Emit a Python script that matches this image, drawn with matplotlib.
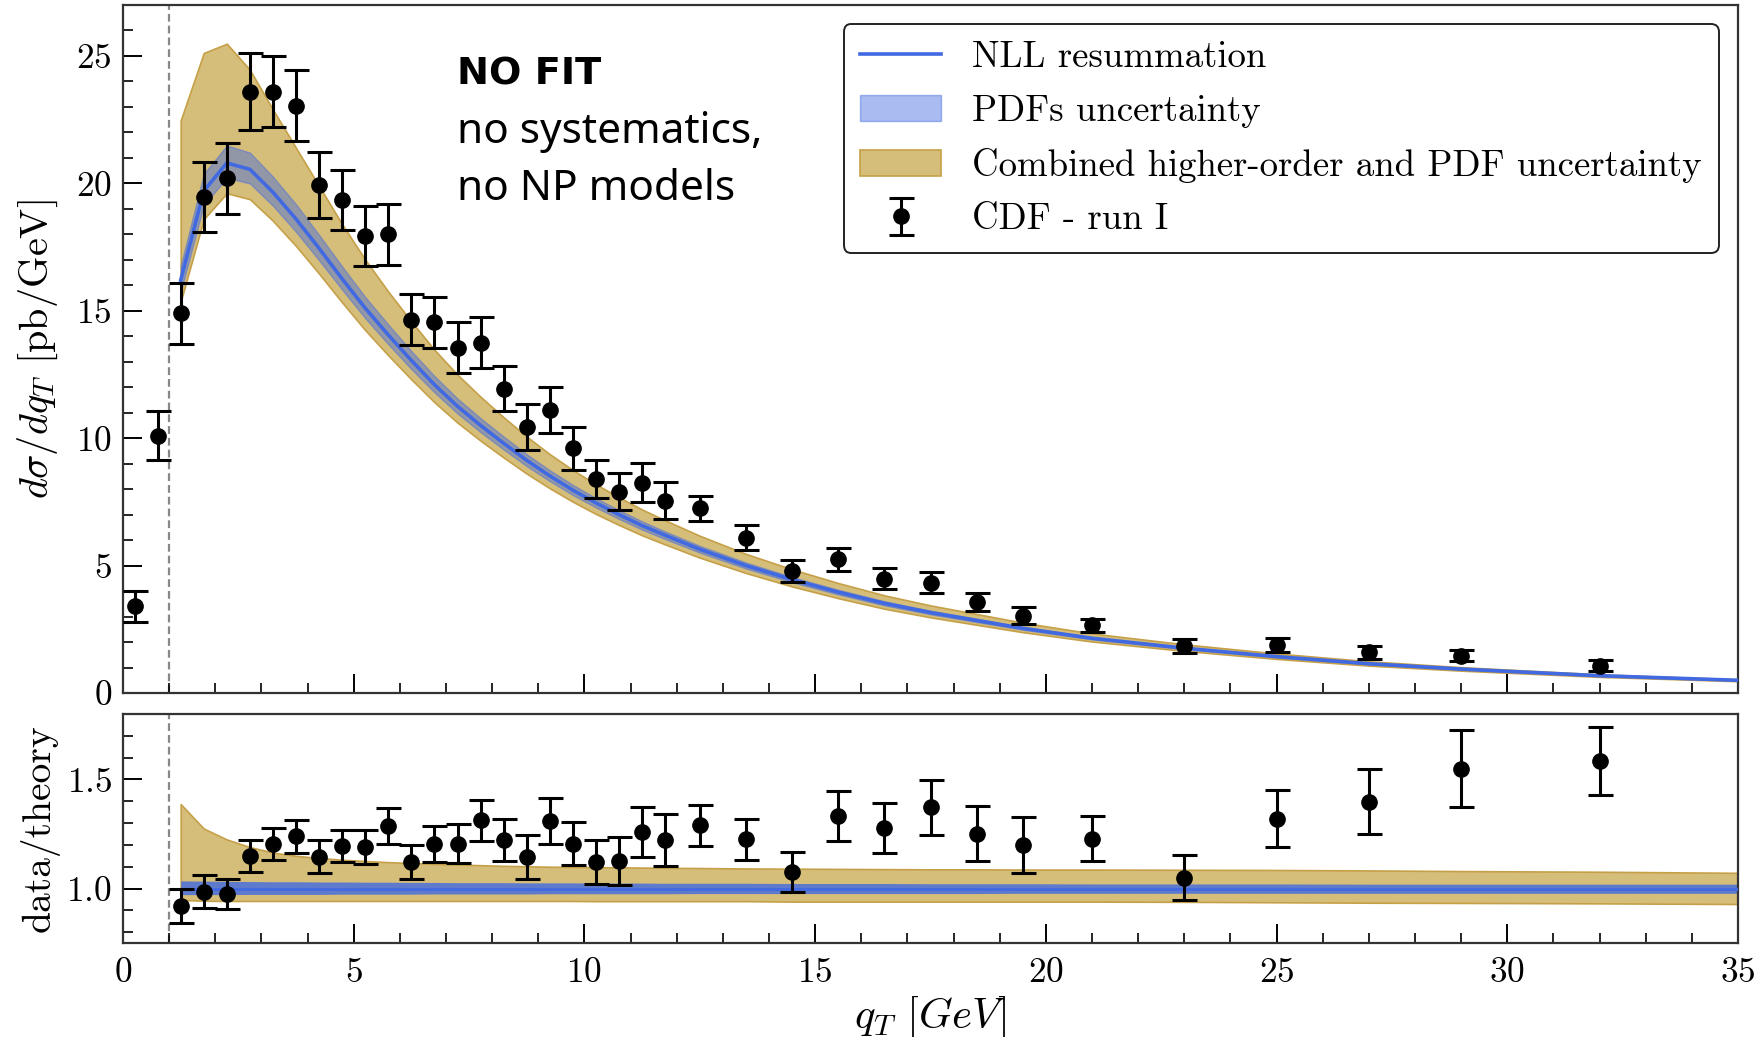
import numpy as np
import matplotlib
matplotlib.use('Agg')
import matplotlib.pyplot as plt
from matplotlib.ticker import MultipleLocator

# ── CDF run I measurement ─────────────────────────────────────────────────────
QT = [0.25, 0.75, 1.25, 1.75, 2.25, 2.75, 3.25, 3.75, 4.25, 4.75, 5.25, 5.75,
      6.25, 6.75, 7.25, 7.75, 8.25, 8.75, 9.25, 9.75, 10.25, 10.75, 11.25,
      11.75, 12.5, 13.5, 14.5, 15.5, 16.5, 17.5, 18.5, 19.5, 21, 23, 25, 27,
      29, 32]
XSEC = [3.4, 10.1, 14.9, 19.45, 20.2, 23.6, 23.6, 23.05, 19.95, 19.35, 17.95,
        18.0, 14.65, 14.55, 13.55, 13.75, 11.95, 10.45, 11.1, 9.6, 8.4, 7.9,
        8.25, 7.55, 7.25, 6.1, 4.78, 5.25, 4.49, 4.33, 3.57, 3.03, 2.65, 1.85,
        1.88, 1.6, 1.46, 1.07]
XSEC_ERR = [0.6, 0.97, 1.2, 1.37, 1.4, 1.5, 1.4, 1.4, 1.3, 1.17, 1.18, 1.2,
            1.0, 1.0, 1.0, 1.0, 0.9, 0.9, 0.9, 0.83, 0.75, 0.73, 0.77, 0.72,
            0.5, 0.48, 0.43, 0.46, 0.42, 0.4, 0.36, 0.34, 0.27, 0.26, 0.26,
            0.26, 0.22, 0.22]

# data / theory (bins above the qT cut only)
QT_RATIO = QT[2:]
RATIO = [0.919, 0.985, 0.974, 1.148, 1.203, 1.24, 1.145, 1.194, 1.19, 1.286,
         1.122, 1.206, 1.206, 1.313, 1.222, 1.145, 1.309, 1.206, 1.122, 1.127,
         1.26, 1.222, 1.29, 1.225, 1.076, 1.332, 1.279, 1.372, 1.252, 1.199,
         1.229, 1.05, 1.321, 1.398, 1.55, 1.586]
RATIO_ERR = [0.077, 0.075, 0.07, 0.073, 0.074, 0.076, 0.076, 0.074, 0.078,
             0.084, 0.077, 0.083, 0.09, 0.095, 0.095, 0.1, 0.106, 0.1, 0.1,
             0.11, 0.116, 0.12, 0.094, 0.095, 0.093, 0.115, 0.114, 0.126,
             0.125, 0.13, 0.103, 0.103, 0.13, 0.15, 0.178, 0.157]

# ── NLL prediction and relative uncertainty envelopes ────────────────────────
QT_TH = [1.25, 1.75, 2.25, 2.75, 3.25, 3.75, 4.25, 4.75, 5.25, 5.75, 6.25,
         6.75, 7.25, 7.75, 8.25, 8.75, 9.25, 9.75, 10.25, 10.75, 11.25, 11.75,
         12.5, 13.5, 14.5, 15.5, 16.5, 17.5, 18.5, 19.5, 21, 23, 25, 27, 29,
         32, 35]
NLL = [16.2, 19.7, 20.8, 20.55, 19.65, 18.6, 17.45, 16.25, 15.1, 14.05, 13.05,
       12.1, 11.25, 10.5, 9.8, 9.13, 8.52, 7.96, 7.46, 7.0, 6.57, 6.19, 5.64,
       5.0, 4.45, 3.96, 3.52, 3.16, 2.85, 2.54, 2.15, 1.76, 1.43, 1.15, 0.94,
       0.68, 0.5]
COMB_UP = [1.387, 1.275, 1.225, 1.19, 1.165, 1.15, 1.14, 1.132, 1.126, 1.121,
           1.117, 1.113, 1.11, 1.107, 1.104, 1.102, 1.10, 1.099, 1.098, 1.097,
           1.096, 1.095, 1.094, 1.092, 1.091, 1.09, 1.089, 1.088, 1.088,
           1.087, 1.087, 1.086, 1.085, 1.083, 1.08, 1.077, 1.072]
COMB_LO = [0.948, 0.944] + [0.943]*16 + [0.942]*6 + [0.940]*7 + \
          [0.939, 0.937, 0.935, 0.934, 0.932, 0.929]
PDF_UP = [1.035, 1.034, 1.033, 1.032, 1.031, 1.031, 1.030, 1.030, 1.029,
          1.029, 1.028, 1.028, 1.027, 1.027, 1.027, 1.026, 1.026, 1.026,
          1.025, 1.025, 1.025, 1.024, 1.024, 1.024, 1.023, 1.023, 1.023,
          1.022, 1.022, 1.022, 1.021, 1.021, 1.021, 1.020, 1.020, 1.020, 1.020]
PDF_LO = [0.972]*3 + [0.973]*4 + [0.974]*4 + [0.975]*5 + [0.976]*6 + \
         [0.977]*7 + [0.978]*8

QT_CUT = 1.0

# ── Style ─────────────────────────────────────────────────────────────────────
BLUE  = '#4169e1'
GOLD  = '#d5bd7a'
GOLDE = '#c6a048'
FS    = 25.5

plt.rcParams.update({
    'font.family': 'serif',
    'font.serif': ['cmr10'],
    'mathtext.fontset': 'cm',
    'axes.formatter.use_mathtext': True,
    'axes.unicode_minus': False,
    'font.size': FS,
    'axes.linewidth': 1.6,
    'axes.edgecolor': '#333333',
    'xtick.direction': 'in', 'ytick.direction': 'in',
    'xtick.major.size': 14, 'ytick.major.size': 14,
    'xtick.minor.size': 7, 'ytick.minor.size': 7,
    'xtick.major.width': 1.4, 'ytick.major.width': 1.4,
    'xtick.minor.width': 1.2, 'ytick.minor.width': 1.2,
    'xtick.major.pad': 10, 'ytick.major.pad': 8,
})

qt_th = np.array(QT_TH)
nll   = np.array(NLL)

fig = plt.figure(figsize=(17.55, 10.37), dpi=100)
ax  = fig.add_axes([0.0701, 0.3317, 0.9202, 0.6635])
axr = fig.add_axes([0.0701, 0.0906, 0.9202, 0.2208], sharex=ax)

# ── Upper panel: cross section ───────────────────────────────────────────────
band_comb = ax.fill_between(qt_th, nll*np.array(COMB_LO), nll*np.array(COMB_UP),
                            facecolor=GOLD, edgecolor=GOLDE, lw=1.2, zorder=1)
band_pdf = ax.fill_between(qt_th, nll*np.array(PDF_LO), nll*np.array(PDF_UP),
                           color=BLUE, alpha=0.45, lw=1.0, zorder=2)
line_nll, = ax.plot(qt_th, nll, color=BLUE, lw=2.6, zorder=3)
data = ax.errorbar(QT, XSEC, yerr=XSEC_ERR, fmt='o', color='black', ms=11,
                   elinewidth=2.2, capsize=9, capthick=2.2, zorder=5)
ax.axvline(QT_CUT, color='#888888', lw=1.6, ls=(0, (3.5, 1.8)), zorder=0)

ax.set_xlim(0, 35)
ax.set_ylim(0, 27)
ax.xaxis.set_major_locator(MultipleLocator(5))
ax.xaxis.set_minor_locator(MultipleLocator(1))
ax.yaxis.set_major_locator(MultipleLocator(5))
ax.yaxis.set_minor_locator(MultipleLocator(1))
ax.tick_params(labelbottom=False)
ax.set_ylabel(r'$d\sigma/dq_T$ [pb/GeV]', fontsize=29)

leg = ax.legend([line_nll, band_pdf, band_comb, data],
                ['NLL resummation', 'PDFs uncertainty',
                 'Combined higher-order and PDF uncertainty', 'CDF - run I'],
                loc='upper right', bbox_to_anchor=(0.988, 0.972),
                borderaxespad=0, fontsize=26.5, frameon=True, fancybox=True,
                framealpha=1, edgecolor='#222222', handlelength=2.2,
                handletextpad=0.85, labelspacing=0.55, borderpad=0.45)
leg.get_frame().set_linewidth(1.4)

# annotation
ax.text(7.24, 23.87, 'NO FIT', family='DejaVu Sans', fontweight='bold',
        fontsize=27.5, va='baseline')
ax.text(7.24, 21.57, 'no systematics,', family='Noto Sans', fontsize=30.5,
        va='baseline')
ax.text(7.24, 19.34, 'no NP models', family='Noto Sans', fontsize=30.5,
        va='baseline')

# ── Lower panel: data / theory ───────────────────────────────────────────────
axr.fill_between(qt_th, COMB_LO, COMB_UP, facecolor=GOLD, edgecolor=GOLDE,
                 lw=1.2, zorder=1)
axr.fill_between(qt_th, PDF_LO, PDF_UP, color=BLUE, alpha=0.8, lw=0,
                 zorder=2)
axr.plot(qt_th, np.ones_like(qt_th), color=BLUE, lw=2.0, zorder=3)
axr.errorbar(QT_RATIO, RATIO, yerr=RATIO_ERR, fmt='o', color='black', ms=11,
             elinewidth=2.2, capsize=9, capthick=2.2, zorder=5)
axr.axvline(QT_CUT, color='#888888', lw=1.6, ls=(0, (3.5, 1.8)), zorder=0)

axr.set_ylim(0.75, 1.8)
axr.yaxis.set_major_locator(MultipleLocator(0.5))
axr.yaxis.set_minor_locator(MultipleLocator(0.1))
axr.set_ylabel('data/theory', fontsize=28.5)
axr.set_xlabel(r'$q_T\ [GeV]$', fontsize=31)

for a in (ax, axr):
    a.yaxis.set_label_coords(-0.039, 0.5)

fig.savefig('out.png', dpi=100)
